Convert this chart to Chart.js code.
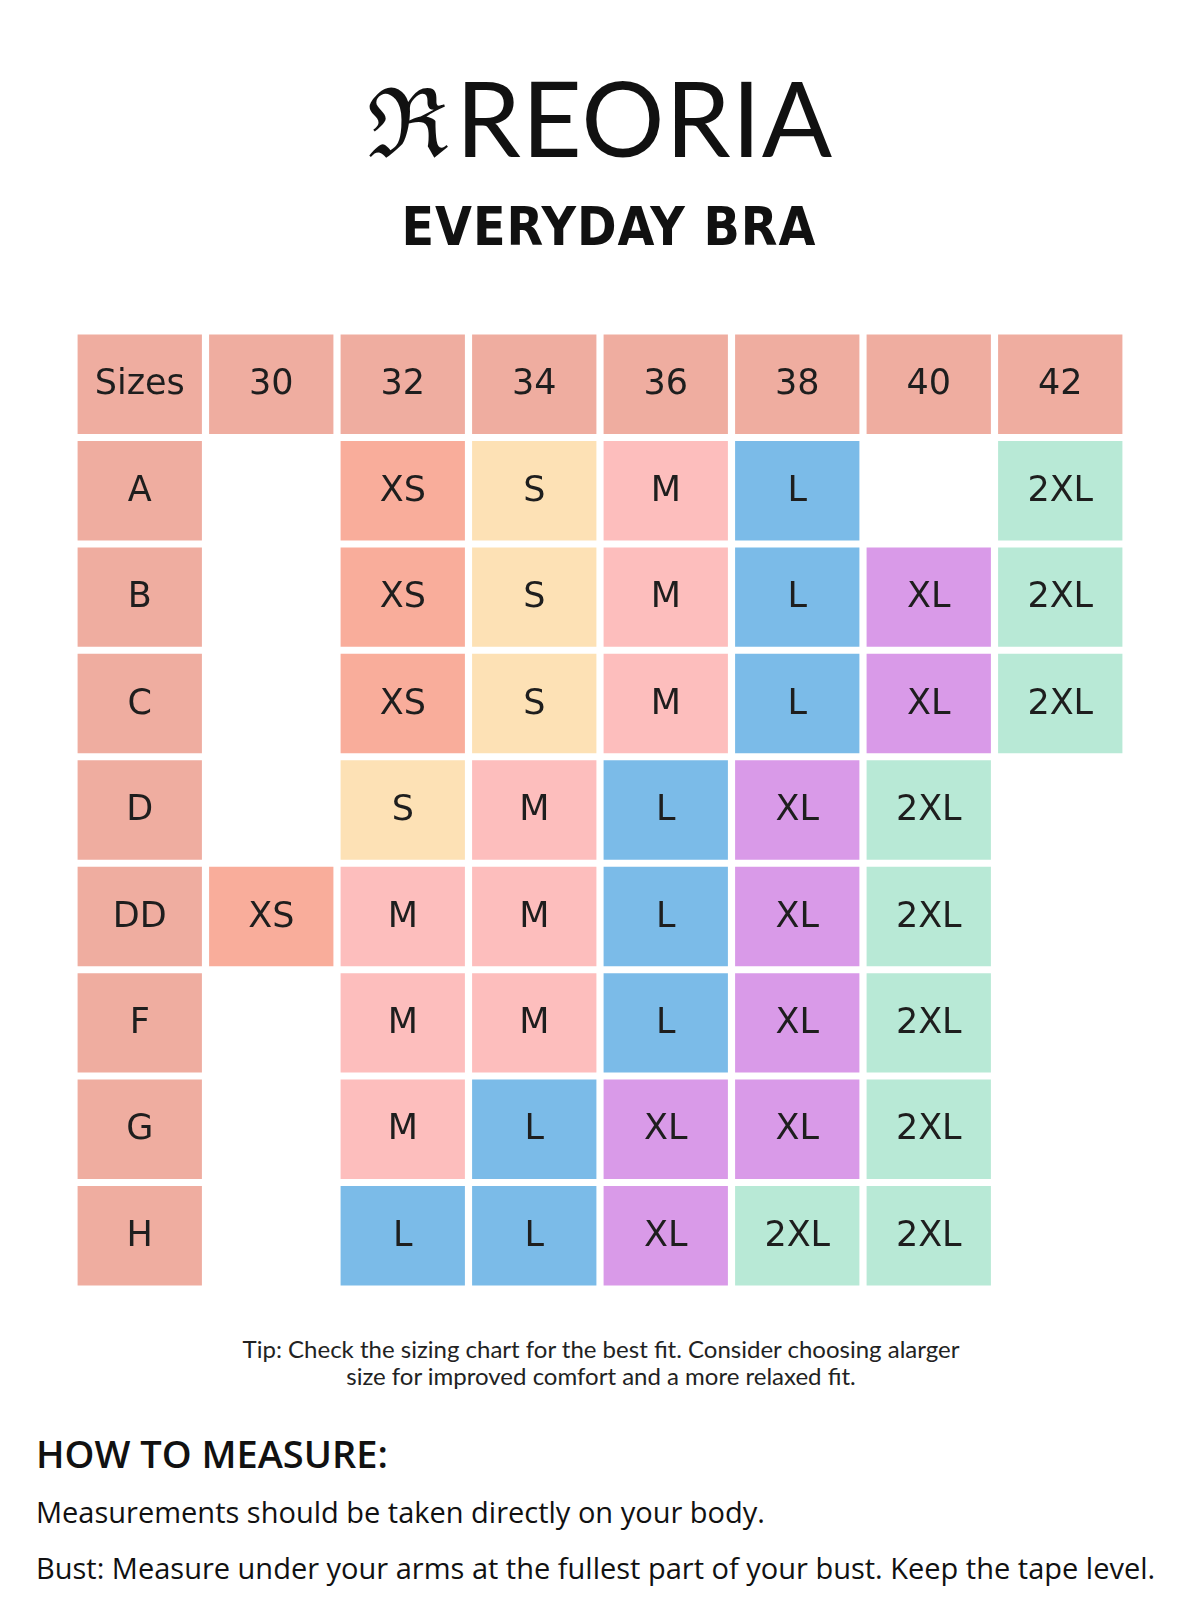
<!DOCTYPE html>
<html>
<head>
<meta charset="utf-8">
<script src="https://cdn.jsdelivr.net/npm/chart.js"></script>
<style>
  body { margin: 0; width: 1200px; height: 1600px; background: #fff; position: relative; font-family: "Open Sans", sans-serif; color: #111; overflow: hidden; }
  .abs { position: absolute; }
  #logo { left: 0; width: 1200px; top: 62px; text-align: center; font-family: Lato, sans-serif; font-size: 104px; letter-spacing: 1px; line-height: 110px; }
  #logo .mark { font-family: "DejaVu Serif", serif; font-size: 96px; margin-right: 6px; }
  #sub { left: 0; width: 1218px; top: 191px; text-align: center; font-family: "DejaVu Sans", sans-serif; font-stretch: condensed; font-weight: bold; font-size: 53px; line-height: 72px; letter-spacing: 1px; }
  #wrap { left: 74px; top: 331px; width: 1052px; height: 958px; }
  #tip { left: 0; width: 1202px; top: 1335px; text-align: center; font-family: Lato, sans-serif; font-size: 24px; line-height: 27px; color: #222; }
  #how { left: 36px; top: 1427px; font-family: "Open Sans", sans-serif; font-weight: 600; font-size: 38px; line-height: 52px; }
  .line { left: 36px; font-family: "Open Sans", sans-serif; font-size: 29px; line-height: 40px; }
</style>
</head>
<body>
<div id="logo" class="abs"><span class="mark">ℜ</span>REORIA</div>
<div id="sub" class="abs">EVERYDAY BRA</div>
<div id="wrap" class="abs"><canvas id="grid"></canvas></div>
<div id="tip" class="abs">Tip: Check the sizing chart for the best fit. Consider choosing alarger<br>size for improved comfort and a more relaxed fit.</div>
<div id="how" class="abs">HOW TO MEASURE:</div>
<div class="abs line" style="top:1492px">Measurements should be taken directly on your body.</div>
<div class="abs line" style="top:1548px">Bust: Measure under your arms at the fullest part of your bust. Keep the tape level.</div>
<script>
const bandSizes = ['30', '32', '34', '36', '38', '40', '42'];
const cupSizes = ['A', 'B', 'C', 'D', 'DD', 'F', 'G', 'H'];
// one row per cup, one entry per band size ('' = no size)
const sizeTable = [
  ['', 'XS', 'S', 'M', 'L', '', '2XL'],
  ['', 'XS', 'S', 'M', 'L', 'XL', '2XL'],
  ['', 'XS', 'S', 'M', 'L', 'XL', '2XL'],
  ['', 'S', 'M', 'L', 'XL', '2XL', ''],
  ['XS', 'M', 'M', 'L', 'XL', '2XL', ''],
  ['', 'M', 'M', 'L', 'XL', '2XL', ''],
  ['', 'M', 'L', 'XL', 'XL', '2XL', ''],
  ['', 'L', 'L', 'XL', '2XL', '2XL', '']
];
const headColor = '#EFADA0';
const sizeColors = { XS: '#F9AD9B', S: '#FDE1B5', M: '#FDBEBD', L: '#7BBBE8', XL: '#D99AE8', '2XL': '#B8E9D6' };

const rowLabels = ['Sizes', ...cupSizes];
const HALF = 0.4727;

// each column becomes one dataset of floating bars
const columns = ['Sizes', ...bandSizes];
const datasets = columns.map((col, c) => {
  const texts = rowLabels.map((r, ri) => {
    if (ri === 0) return col;
    if (c === 0) return r;
    return sizeTable[ri - 1][c - 1];
  });
  return {
    data: texts.map(t => t ? [c - HALF, c + HALF] : null),
    texts: texts,
    backgroundColor: texts.map((t, ri) => (ri === 0 || c === 0) ? headColor : (sizeColors[t] || 'transparent')),
    borderWidth: 0,
    borderSkipped: false,
    grouped: false,
    barPercentage: 0.934,
    categoryPercentage: 1
  };
});

const cellText = {
  id: 'cellText',
  afterDatasetsDraw(chart) {
    const ctx = chart.ctx;
    ctx.save();
    ctx.fillStyle = '#1e1e1e';
    ctx.font = '35px "DejaVu Sans", sans-serif';
    ctx.textAlign = 'center';
    ctx.textBaseline = 'middle';
    chart.data.datasets.forEach((ds, di) => {
      chart.getDatasetMeta(di).data.forEach((bar, i) => {
        const t = ds.texts[i];
        if (!t || !ds.data[i]) return;
        const p = bar.getProps(['x', 'base', 'y'], true);
        ctx.fillText(t, (p.x + p.base) / 2, p.y + 1);
      });
    });
    ctx.restore();
  }
};

new Chart(document.getElementById('grid'), {
  type: 'bar',
  data: { labels: rowLabels, datasets: datasets },
  options: {
    indexAxis: 'y',
    responsive: true,
    maintainAspectRatio: false,
    animation: false,
    layout: { padding: 0 },
    plugins: { legend: { display: false }, tooltip: { enabled: false } },
    scales: {
      x: { type: 'linear', min: -0.5, max: 7.5, display: false },
      y: { display: false, offset: true }
    }
  },
  plugins: [cellText]
});
</script>
</body>
</html>
